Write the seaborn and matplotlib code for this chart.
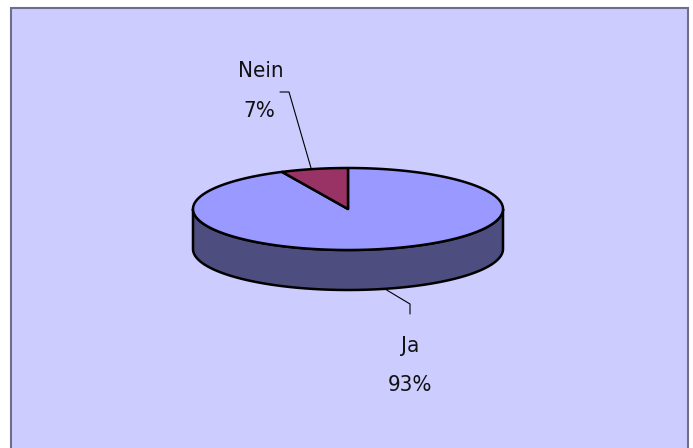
import numpy as np
import matplotlib
matplotlib.use("Agg")
import matplotlib.pyplot as plt
import seaborn as sns
from matplotlib.patches import Polygon, Rectangle
from matplotlib import font_manager

sns.set_style("white")

categories = ["Ja", "Nein"]
values = [93, 7]
pct_labels = ["93%", "7%"]
top_colors = ["#9999FF", "#993366"]
side_colors = ["#4D4D80", "#4D1A33"]

plt.rcParams['font.family'] = ['DejaVu Sans']

fig = plt.figure(figsize=(6.93, 4.48), dpi=100)
fig.patch.set_facecolor("white")
ax = fig.add_axes([0, 0, 1, 1])
ax.set_xlim(0, 693)
ax.set_ylim(448, 0)
ax.axis("off")

# background panel
ax.add_patch(Rectangle((11, 8), 677, 460, facecolor="#CCCCFF", edgecolor="#6E6E8C", lw=1.5, zorder=0))

cx, cy, rx, ry, depth = 348, 209, 155, 41, 40

def pt(a, dy=0):
    r = np.deg2rad(a)
    return cx + rx * np.cos(r), cy - ry * np.sin(r) + dy

total = sum(values)
nein_span = values[1] / total * 360
start_nein, end_nein = 90, 90 + nein_span
start_ja, end_ja = end_nein, 450

a0, a1 = max(start_ja, 180), min(end_ja, 360)
angs = np.linspace(a0, a1, 200)
top_edge = [pt(a) for a in angs]
bot_edge = [pt(a, depth) for a in angs[::-1]]
ax.add_patch(Polygon(top_edge + bot_edge, closed=True, facecolor=side_colors[0],
                     edgecolor="black", lw=1.8, joinstyle="round", zorder=2))

def wedge(s, e, color):
    angs = np.linspace(s, e, 300)
    pts = [(cx, cy)] + [pt(a) for a in angs]
    ax.add_patch(Polygon(pts, closed=True, facecolor=color, edgecolor="black",
                         lw=1.8, joinstyle="round", zorder=3))

wedge(start_ja, end_ja, top_colors[0])
wedge(start_nein, end_nein, top_colors[1])

ax.plot([280, 289, 311], [92, 92, 168], color="black", lw=0.8, zorder=4)
ax.plot([385, 410, 410], [289, 304, 314], color="black", lw=0.8, zorder=4)

fs = 16
kw = dict(ha="center", va="center", fontsize=fs, color="#111111", fontstretch="condensed")
ax.text(261, 71, categories[1], **kw)
ax.text(259, 111, pct_labels[1], **kw)
ax.text(410, 346, categories[0], **kw)
ax.text(410, 385, pct_labels[0], **kw)

fig.savefig("out.png", dpi=100)
